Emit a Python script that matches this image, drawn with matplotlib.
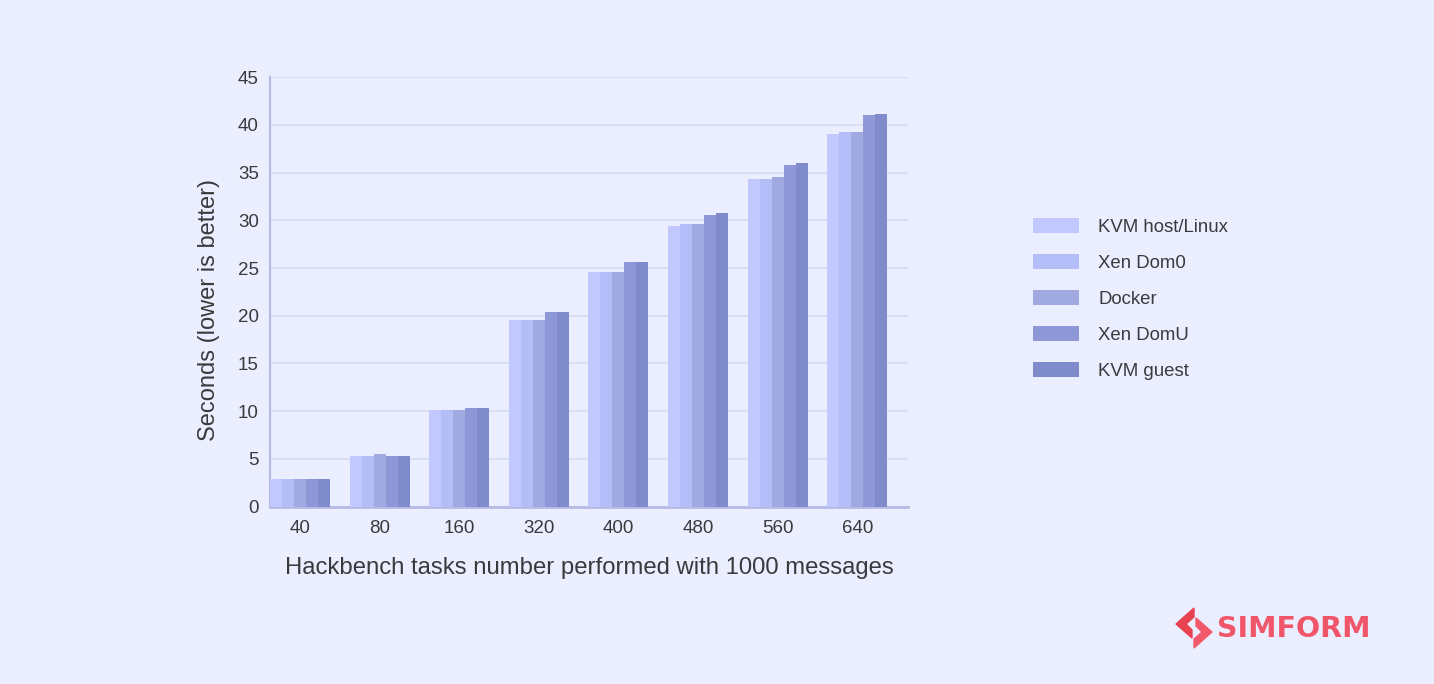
import numpy as np
import matplotlib.pyplot as plt
from matplotlib.patches import Polygon

# hackbench results, seconds
tasks = ['40', '80', '160', '320', '400', '480', '560', '640']
series = ['KVM host/Linux', 'Xen Dom0', 'Docker', 'Xen DomU', 'KVM guest']
kvm_host = [2.9, 5.3, 10.1, 19.6, 24.6, 29.4, 34.3, 39.1]
xen_dom0 = [2.9, 5.3, 10.1, 19.6, 24.6, 29.6, 34.3, 39.3]
docker = [2.9, 5.5, 10.1, 19.6, 24.6, 29.6, 34.5, 39.3]
xen_domu = [2.9, 5.3, 10.3, 20.4, 25.6, 30.6, 35.8, 41.0]
kvm_guest = [2.9, 5.3, 10.3, 20.4, 25.6, 30.8, 36.0, 41.2]
values = [kvm_host, xen_dom0, docker, xen_domu, kvm_guest]
yticks = [0, 5, 10, 15, 20, 25, 30, 35, 40, 45]

bg = '#ebeefe'
colors = ['#c0c8fe', '#b3bdf8', '#a0a9e0', '#8e98d8', '#808bcb']
txt = '#3a3a3e'

plt.rcParams['font.family'] = ['Liberation Sans', 'DejaVu Sans']

fig = plt.figure(figsize=(14.34, 6.84), dpi=100, facecolor=bg)
ax = fig.add_axes([0.1883, 0.2595, 0.4449, 0.6275], facecolor=bg)

x = np.arange(len(tasks))
w = 0.151
for i, (name, vals) in enumerate(zip(series, values)):
    ax.bar(x + (i - 2) * w, vals, width=w, color=colors[i], label=name,
           zorder=3, linewidth=0)

ax.set_xlim(-0.377, 7.638)
ax.set_ylim(0, 45)
ax.set_yticks(yticks)
ax.set_xticks(x)
ax.set_xticklabels(tasks)
ax.tick_params(length=0, labelsize=13.5, colors=txt)
ax.tick_params(axis='x', pad=10)
ax.tick_params(axis='y', pad=8)
ax.grid(axis='y', color='#dadef4', linewidth=1.5, zorder=0)
for s in ['top', 'right']:
    ax.spines[s].set_visible(False)
ax.spines['left'].set_color('#b4bae4')
ax.spines['left'].set_linewidth(1.5)
ax.spines['bottom'].set_color('#b4bae4')
ax.spines['bottom'].set_linewidth(2)

ax.set_xlabel('Hackbench tasks number performed with 1000 messages',
              fontsize=17.2, color=txt, labelpad=14)
ax.set_ylabel('Seconds (lower is better)', fontsize=17, color=txt)
ax.yaxis.set_label_coords(-0.078, 0.458)

leg = fig.legend(loc='upper left', bbox_to_anchor=(0.709, 0.706), frameon=False,
                 fontsize=13.4, labelcolor=txt, handlelength=2.47, handleheight=0.86,
                 handletextpad=1.0, labelspacing=0.98)

# simform logo
top_piece = [[1194, 608], [1194, 617], [1186, 624], [1192, 630], [1192, 638], [1176, 624]]
bot_piece = [[1194, 648], [1194, 639], [1202, 632], [1196, 626], [1196, 618], [1212, 632]]
for pts, c in [(top_piece, '#e8414f'), (bot_piece, '#f25a6c')]:
    fig.patches.append(Polygon([[px, 684 - py] for px, py in pts], closed=True,
                               transform=None, color=c))
fig.text(1217 / 1434, 1 - 629 / 684, 'SIMFORM', fontsize=20.5, fontweight='bold',
         color='#f0566a', va='center', ha='left', family='DejaVu Sans')

fig.savefig('out.png', dpi=100, facecolor=bg)
